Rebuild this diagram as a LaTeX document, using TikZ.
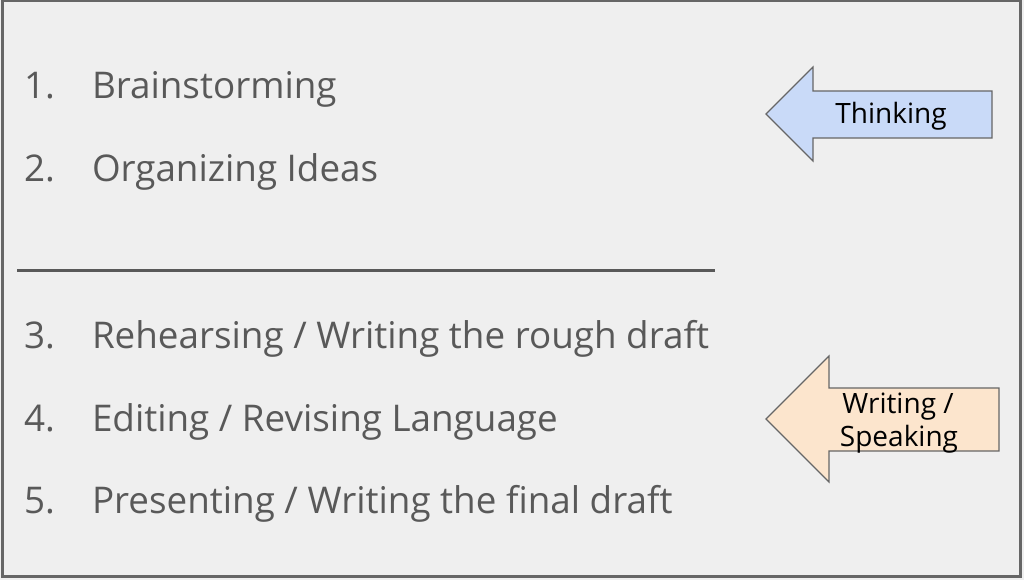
\documentclass[tikz,border=0pt]{standalone}
\usepackage{fontspec}
\setmainfont{Open Sans}
\usetikzlibrary{positioning}
\definecolor{pagebg}{HTML}{EFEFEF}
\definecolor{textgrey}{HTML}{595959}
\definecolor{framegrey}{HTML}{666666}
\definecolor{thinkblue}{HTML}{C9DAF8}
\definecolor{writeorange}{HTML}{FCE5CD}
\tikzset{
    every node/.style={inner sep=0pt, outer sep=0pt},
    step num/.style={anchor=base west, text=textgrey, font=\fontsize{36.8}{40}\selectfont},
    step text/.style={anchor=base west, text=textgrey, font=\fontsize{36.8}{40}\selectfont},
    arrow label/.style={anchor=base, text=black, font=\fontsize{28}{33}\selectfont},
    arrow shape/.style={draw=framegrey, line width=1.2pt, line join=miter}
}
\begin{document}
\begin{tikzpicture}[x=1pt,y=-1pt]
    \useasboundingbox (0,0) rectangle (1024,580);
    \fill[pagebg] (0,0) rectangle (1024,580);
    \draw[framegrey, line width=3pt] (2,0.5) rectangle (1020.5,576.5);

    % list of steps
    \node[step num] (n1) at (24,99) {1.};
    \node[step text] (s1) at (92,99) {Brainstorming};
    \node[step num] (n2) at (24,182) {2.};
    \node[step text] (s2) at (92,182) {Organizing Ideas};
    \coordinate (ruleL) at (17,270);
    \coordinate (ruleR) at (715,270);
    \draw[textgrey, line width=3pt] (ruleL) -- (ruleR);
    \node[step num] (n3) at (24,348) {3.};
    \node[step text] (s3) at (92,348) {Rehearsing / Writing the rough draft};
    \node[step num] (n4) at (24,431) {4.};
    \node[step text] (s4) at (92,431) {Editing / Revising Language};
    \node[step num] (n5) at (24,513) {5.};
    \node[step text] (s5) at (92,513) {Presenting / Writing the final draft};

    % arrows
    \draw[arrow shape, fill=thinkblue] (766,114) -- (813,67) -- (813,91) -- (992,91)
        -- (992,138) -- (813,138) -- (813,161) -- cycle;
    \node[arrow label] (think) at (891,124) {Thinking};

    \draw[arrow shape, fill=writeorange] (766,419) -- (829,356) -- (829,388) -- (999,388)
        -- (999,451) -- (829,451) -- (829,482) -- cycle;
    \node[arrow label] (write) at (898,413) {Writing /};
    \node[arrow label] (speak) at (899,446) {Speaking};
\end{tikzpicture}
\end{document}
